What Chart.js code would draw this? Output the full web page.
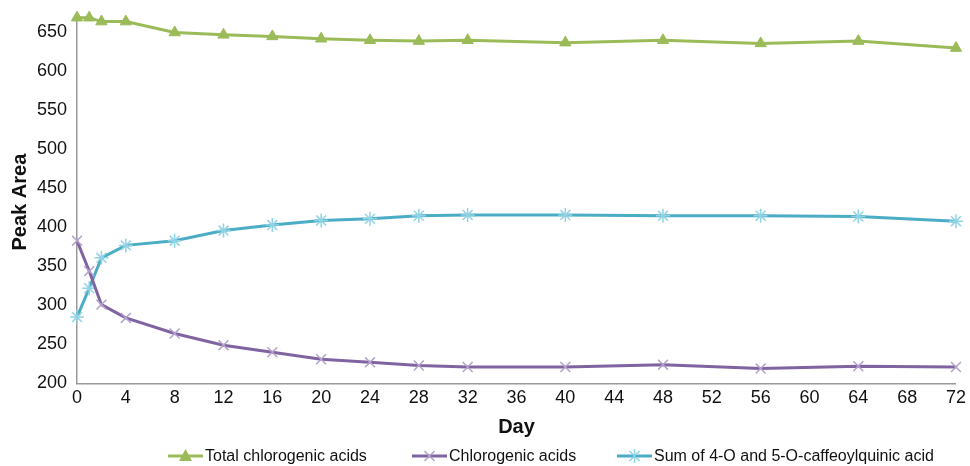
<!DOCTYPE html>
<html lang="en">
<head>
  <meta charset="UTF-8">
  <title>Peak Area by Day</title>
  <script src="https://cdn.jsdelivr.net/npm/chart.js"></script>
  <style>
    html, body { margin: 0; padding: 0; background: #fff; }
    #wrap { width: 970px; height: 466px; position: relative; }
    #legend { position: absolute; left: 0; top: 447px; width: 970px; height: 18px;
              font-family: 'Liberation Sans', Arial, sans-serif; font-size: 16px; color: #111; }
    .item { position: absolute; top: 0; display: flex; align-items: center; height: 18px; white-space: nowrap; }
    .item canvas { display: block; margin-right: 2px; }
  </style>
</head>
<body>
<div id="wrap">
  <canvas id="peakChart"></canvas>
  <div id="legend"></div>
</div>
<script>
const days = [0, 1, 2, 4, 8, 12, 16, 20, 24, 28, 32, 40, 48, 56, 64, 72];
const totalCGA = [669, 669, 664, 664, 650, 647, 645, 642, 640, 639, 640, 637, 640, 636, 639, 630];
const chlorogenic = [383, 344, 301, 284, 264, 249, 240, 231, 227, 223, 221, 221, 224, 219, 222, 221];
const sumCQA = [285, 322, 361, 377, 383, 396, 403, 409, 411, 415, 416, 416, 415, 415, 414, 408];
const seriesNames = ["Total chlorogenic acids", "Chlorogenic acids", "Sum of 4-O and 5-O-caffeoylquinic acid"];
const yTicks = [200, 250, 300, 350, 400, 450, 500, 550, 600, 650];

const FONT = "'Liberation Sans', Arial, sans-serif";
const green = "#9BBB59", purple = "#8064A2", cyan = "#4BACC6";
const purpleMark = "#B3A2CC", cyanMark = "#8FD3E4";

function toPoints(ys) {
  return days.map((d, i) => ({ x: d, y: ys[i] }));
}

// legend glyph: line with the marker in the middle
function legendGlyph(color, markColor, kind) {
  const c = document.createElement("canvas");
  c.width = 35; c.height = 16;
  const g = c.getContext("2d");
  g.strokeStyle = color; g.lineWidth = 3;
  g.beginPath(); g.moveTo(0, 8); g.lineTo(35, 8); g.stroke();
  g.strokeStyle = markColor; g.fillStyle = markColor; g.lineWidth = 1.5;
  if (kind === "tri") {
    g.beginPath(); g.moveTo(17.5, 1); g.lineTo(24, 13); g.lineTo(11, 13); g.closePath(); g.fill();
  } else {
    g.beginPath();
    g.moveTo(12.5, 3); g.lineTo(22.5, 13); g.moveTo(22.5, 3); g.lineTo(12.5, 13);
    if (kind === "star") { g.moveTo(17.5, 1); g.lineTo(17.5, 15); }
    g.stroke();
  }
  return c;
}

const legendItems = [
  { left: 168, glyph: legendGlyph(green, green, "tri") },
  { left: 412, glyph: legendGlyph(purple, purpleMark, "x") },
  { left: 617, glyph: legendGlyph(cyan, cyanMark, "star") }
];
const legendBox = document.getElementById("legend");
legendItems.forEach((it, i) => {
  const div = document.createElement("div");
  div.className = "item";
  div.style.left = it.left + "px";
  div.appendChild(it.glyph);
  const span = document.createElement("span");
  span.textContent = seriesNames[i];
  div.appendChild(span);
  legendBox.appendChild(div);
});

const ctx = document.getElementById("peakChart").getContext("2d");
new Chart(ctx, {
  type: "line",
  data: {
    datasets: [
      { label: seriesNames[0], data: toPoints(totalCGA), borderColor: green, backgroundColor: green,
        borderWidth: 3, pointStyle: "triangle", pointRadius: 6.5, pointBackgroundColor: green,
        pointBorderColor: green, pointBorderWidth: 1, tension: 0, clip: false },
      { label: seriesNames[1], data: toPoints(chlorogenic), borderColor: purple, backgroundColor: purple,
        borderWidth: 3, pointStyle: "crossRot", pointRadius: 7, pointBorderColor: purpleMark,
        pointBorderWidth: 1.5, tension: 0, clip: false },
      { label: seriesNames[2], data: toPoints(sumCQA), borderColor: cyan, backgroundColor: cyan,
        borderWidth: 3, pointStyle: "star", pointRadius: 7, pointBorderColor: cyanMark,
        pointBorderWidth: 1.5, tension: 0, clip: false }
    ]
  },
  options: {
    responsive: true,
    maintainAspectRatio: false,
    animation: false,
    layout: { padding: { top: 15, right: 0, left: 4, bottom: 27 } },
    plugins: {
      tooltip: { enabled: false },
      legend: { display: false }
    },
    scales: {
      x: {
        type: "linear",
        min: 0,
        max: 72,
        grid: { display: false, drawTicks: false },
        border: { color: "#999", width: 1.5 },
        ticks: { stepSize: 4, color: "#111", padding: 4, font: { family: FONT, size: 18 } },
        title: { display: true, text: "Day", color: "#111", padding: { top: 2, bottom: 0 },
                 font: { family: FONT, size: 20, weight: "bold" } }
      },
      y: {
        min: 200,
        max: 665,
        grid: { display: false, drawTicks: false },
        border: { color: "#999", width: 1.5 },
        afterBuildTicks: axis => { axis.ticks = yTicks.map(v => ({ value: v })); },
        afterFit: axis => { axis.width = 73; },
        ticks: { color: "#111", padding: 10, font: { family: FONT, size: 18 } },
        title: { display: true, text: "Peak Area", color: "#111", padding: { top: 4, bottom: 6 },
                 font: { family: FONT, size: 20, weight: "bold" } }
      }
    }
  }
});
</script>
</body>
</html>
